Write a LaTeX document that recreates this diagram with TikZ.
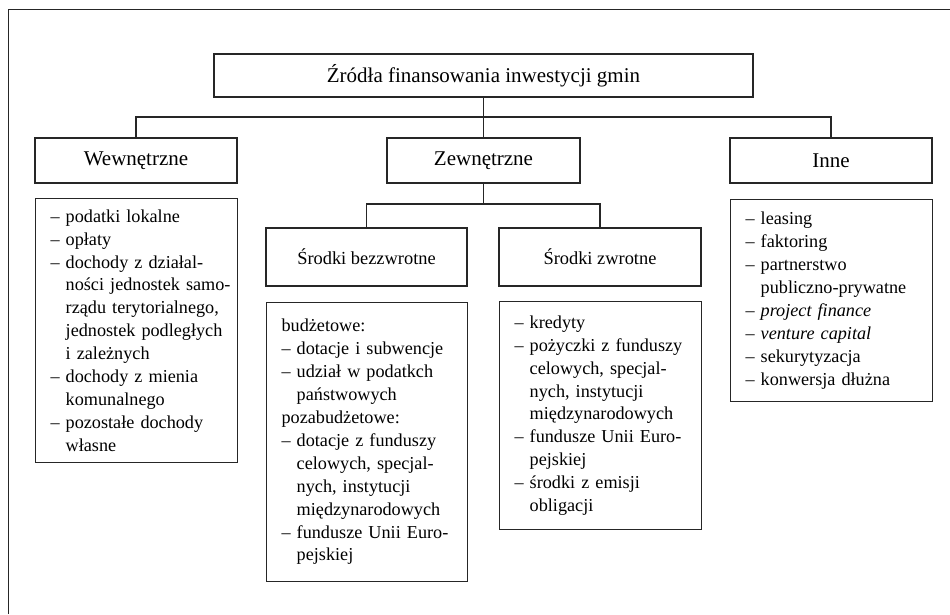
\documentclass[tikz,border=0pt]{standalone}
\usepackage{fontspec}
\setmainfont{Liberation Serif}
\newcommand{\wc}{\hphantom{–}\ }
\begin{document}
\begin{tikzpicture}[x=1pt, y=-1pt,
    ramka/.style={draw=black!85, line width=1.1pt, inner sep=0pt},
    naglowek/.style={ramka, font=\fontsize{21}{25}\selectfont},
    srodki/.style={ramka, font=\fontsize{18.4}{22.9}\selectfont},
    lista/.style={ramka, anchor=north west, align=left,
        font=\fontsize{18.2}{22.9}\selectfont,
        execute at begin node={\leftskip=15pt\relax\hyphenpenalty=10000\relax}},
    linia/.style={draw=black!85, line width=1.1pt}]
    \useasboundingbox (0,0) rectangle (950,614);
    % Ramka
    \draw[black!85, line width=0.9pt] (8,614) -- (8,9) -- (950,9);
    % Korzeń
    \node[naglowek, minimum width=539pt, minimum height=43pt] (zrodla) at (483.5,75.5) {Źródła finansowania inwestycji gmin};
    % Poziom 1
    \node[naglowek, minimum width=202pt, minimum height=45pt] (wew) at (136,160.5) {Wewnętrzne};
    \node[naglowek, minimum width=193pt, minimum height=45pt] (zew) at (483.5,160.5) {Zewnętrzne};
    \node[naglowek, minimum width=202pt, minimum height=45pt] (inne) at (831,160.5) {Inne};
    % Poziom 2
    \node[srodki, minimum width=201pt, minimum height=58pt] (bezz) at (366.5,257) {Środki bezzwrotne};
    \node[srodki, minimum width=202pt, minimum height=58pt] (zwr) at (600,257) {Środki zwrotne};
    % Listy
    \node[lista, text width=202pt, minimum height=264pt] (wewlista) at (35,198) {%
        – podatki lokalne\\
        – opłaty\\
        – dochody z działal-\\
        \wc ności jednostek samo-\\
        \wc rządu terytorialnego,\\
        \wc jednostek podległych\\
        \wc i zależnych\\
        – dochody z mienia\\
        \wc komunalnego\\
        – pozostałe dochody\\
        \wc własne};
    \node[lista, text width=201pt, minimum height=279pt] (bezzlista) at (266,302) {%
        budżetowe:\\
        – dotacje i subwencje\\
        – udział w podatkch\\
        \wc państwowych\\
        pozabudżetowe:\\
        – dotacje z funduszy\\
        \wc celowych, specjal-\\
        \wc nych, instytucji\\
        \wc międzynarodowych\\
        – fundusze Unii Euro-\\
        \wc pejskiej};
    \node[lista, text width=202pt, minimum height=228pt] (zwrlista) at (499,301) {%
        – kredyty\\
        – pożyczki z funduszy\\
        \wc celowych, specjal-\\
        \wc nych, instytucji\\
        \wc międzynarodowych\\
        – fundusze Unii Euro-\\
        \wc pejskiej\\
        – środki z emisji\\
        \wc obligacji};
    \node[lista, text width=202pt, minimum height=202pt] (innelista) at (730,199) {%
        – leasing\\
        – faktoring\\
        – partnerstwo\\
        \wc publiczno-prywatne\\
        – \textit{project finance}\\
        – \textit{venture capital}\\
        – sekurytyzacja\\
        – konwersja dłużna};
    % Połączenia
    \coordinate (szyna) at (483.5,117);
    \coordinate (szyna2) at (483.5,204);
    \draw[linia] (zrodla.south) -- (zew.north);
    \draw[linia] (wew.north) |- (szyna) -| (inne.north);
    \draw[linia] (zew.south) -- (szyna2);
    \draw[linia] (bezz.north) |- (szyna2) -| (zwr.north);
\end{tikzpicture}
\end{document}
